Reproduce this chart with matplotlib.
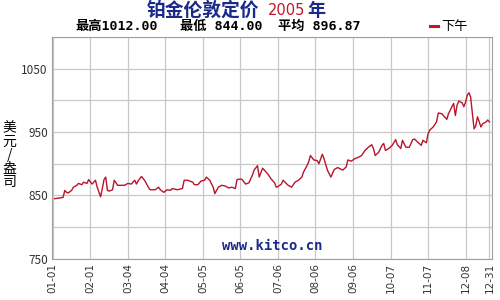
import numpy as np
import matplotlib
matplotlib.use('Agg')
import matplotlib.pyplot as plt

plt.rcParams['font.family'] = ['Noto Sans CJK SC', 'DejaVu Sans']

# Trading-day index and London PM platinum fix (USD/oz)
day = [1, 4, 6, 7, 8, 9, 11, 12, 14, 15, 17, 18, 20, 21, 23, 25, 26, 28, 29, 30,
       31, 32, 33, 35, 36, 38, 40, 42, 44, 46, 48, 49, 50, 52, 54, 56, 57, 60, 62, 63,
       65, 67, 69, 70, 73, 76, 77, 79, 82, 83, 85, 87, 89, 90, 92, 94, 95, 97, 99, 101,
       103, 105, 107, 108, 110, 111, 113, 115, 117, 118, 120, 121, 123, 124, 126, 128, 130, 131, 132, 133,
       134, 135, 138, 140, 142, 144, 146, 147, 149, 150, 151, 153, 155, 156, 158, 159, 161, 163, 165, 167,
       170, 172, 173, 175, 177, 179, 181, 183, 185, 187, 188, 189, 191, 193, 194, 195, 197, 199, 201, 202,
       204, 205, 207, 209, 211, 212, 214, 216, 217, 219, 220, 221, 223, 225, 226, 228, 229, 231, 232, 234,
       235, 236, 237, 238, 240, 241, 242, 243, 244, 245, 246, 247, 248, 249, 251, 252, 254, 255, 256]
price = [845, 846, 847, 858, 855, 854, 858, 863, 866, 869, 867, 871, 869, 875, 868, 874, 863, 848, 861, 875,
         879, 858, 857, 859, 874, 866, 866, 866, 869, 868, 874, 868, 873, 880, 873, 863, 859, 859, 863, 859,
         855, 859, 858, 861, 859, 861, 874, 874, 871, 867, 867, 873, 874, 879, 874, 863, 853, 863, 866, 865,
         862, 863, 861, 875, 876, 875, 868, 870, 882, 890, 897, 879, 893, 890, 884, 876, 870, 863, 864, 866,
         868, 874, 866, 863, 871, 874, 879, 887, 897, 903, 913, 906, 905, 900, 915, 908, 890, 879, 891, 894,
         890, 895, 906, 904, 908, 910, 913, 921, 926, 930, 924, 913, 918, 929, 932, 921, 924, 929, 938, 930,
         924, 937, 926, 926, 938, 939, 934, 929, 937, 933, 947, 953, 958, 966, 980, 979, 976, 970, 979, 990,
         995, 976, 992, 999, 996, 990, 997, 1008, 1012, 1005, 979, 955, 960, 974, 958, 963, 966, 969, 966]

tick_days = [0, 22, 44, 66, 88, 110, 132, 154, 176, 198, 220, 242, 256]
tick_labels = ['01-01', '02-01', '03-04', '04-04', '05-05', '06-05', '07-06',
               '08-06', '09-06', '10-07', '11-07', '12-08', '12-31']

fig = plt.figure(figsize=(5, 3), dpi=100)
ax = fig.add_axes([0.104, 0.137, 0.88, 0.74])

ax.plot(day, price, color='#b8142a', lw=1.0)

ax.set_xlim(-0.5, 257.5)
ax.set_ylim(750, 1100)
ax.set_yticks([750, 850, 950, 1050])
ax.set_yticks(np.arange(750, 1101, 50), minor=True)
ax.set_xticks(tick_days)
ax.set_xticklabels(tick_labels, rotation=90, fontsize=7.5, color='#333333', family='DejaVu Sans')
ax.tick_params(axis='y', labelsize=8.5, labelcolor='#333333', length=0, pad=3)
ax.tick_params(axis='x', length=0, pad=3)
ax.tick_params(which='minor', length=0)
ax.grid(True, which='both', color='#c8c8c8', lw=0.9)
ax.set_axisbelow(True)
for s in ax.spines.values():
    s.set_color('#a0a0a0')

# title parts
fig.text(0.294, 0.966, '铂金伦敦定价', color='#1a2a8a', fontsize=13.5, fontweight='bold', va='center', ha='left')
fig.text(0.536, 0.966, '2005', color='#c0182a', fontsize=10.5, va='center', ha='left', family='DejaVu Sans')
fig.text(0.614, 0.966, '年', color='#1a2a8a', fontsize=13, fontweight='bold', va='center', ha='left')

# subtitle stats
mono = ['DejaVu Sans Mono', 'Noto Sans CJK SC']
fig.text(0.150, 0.912, '最高1012.00', fontsize=9.5, fontweight='bold', va='center', ha='left', family=mono)
fig.text(0.360, 0.912, '最低 844.00', fontsize=9.5, fontweight='bold', va='center', ha='left', family=mono)
fig.text(0.556, 0.912, '平均 896.87', fontsize=9.5, fontweight='bold', va='center', ha='left', family=mono)

# legend
fig.add_artist(plt.Line2D([0.860, 0.876], [0.912, 0.912], color='#cc1122', lw=2.2))
fig.text(0.882, 0.912, '下午', fontsize=9.5, va='center', ha='left')

# y label, stacked
fig.text(0.019, 0.483, '\n'.join('美元/盎司'), fontsize=10, va='center', ha='center', linespacing=0.95)

# watermark
ax.text(0.5, 0.025, 'www.kitco.cn', transform=ax.transAxes, ha='center', va='bottom',
        color='#1a2a8a', fontsize=10, fontweight='bold', family='DejaVu Sans Mono')

fig.savefig('out.png', dpi=100)
